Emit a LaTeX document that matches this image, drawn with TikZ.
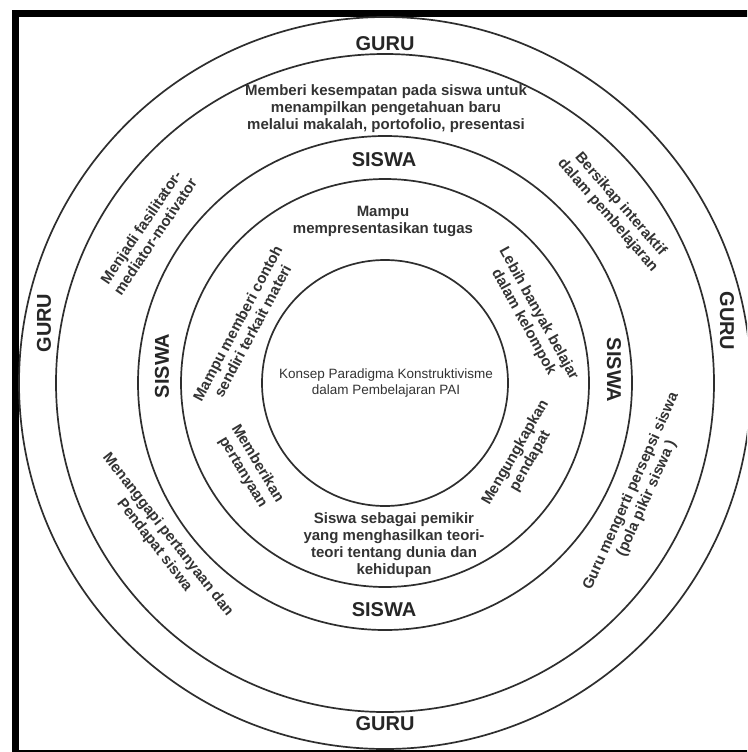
\documentclass[tikz,border=0pt]{standalone}
\usepackage{fontspec}
\setmainfont{Liberation Sans}
\begin{document}
\begin{tikzpicture}[x=1pt,y=-1pt]
\tikzset{
  ring/.style={draw=black!82, line width=1.7pt},
  frameline/.style={draw=black, line width=7pt},
  big/.style={font=\fontsize{20}{22}\selectfont\bfseries, text=black!85, inner sep=0pt},
  lbl/.style={font=\fontsize{15}{17}\selectfont\bfseries, text=black!80, align=center, inner sep=0pt},
  core/.style={font=\fontsize{13.5}{16.5}\selectfont, text=black!80, align=center, inner sep=0pt}
}
\useasboundingbox (0,0) rectangle (747,752);
\clip (0,0) rectangle (747,752);
\fill[white] (0,0) rectangle (747,752);
% frame
\draw[frameline] (15.5,13.5) rectangle (770,753);
% circles
\coordinate (O) at (385,383);
\draw[ring] (O) circle[radius=366];
\draw[ring] (O) circle[radius=329];
\draw[ring] (O) circle[radius=247];
\draw[ring] (O) circle[radius=204];
\draw[ring] (O) circle[radius=123];
% GURU labels
\node[big] (guruT) at (385,44) {GURU};
\node[big] (guruB) at (385,724) {GURU};
\node[big, rotate=90] (guruL) at (44,323) {GURU};
\node[big, rotate=-90] (guruR) at (727,321) {GURU};
% SISWA labels
\node[big] (siswaT) at (384,160) {SISWA};
\node[big] (siswaB) at (384,610) {SISWA};
\node[big, rotate=90] (siswaL) at (162,366) {SISWA};
\node[big, rotate=-90] (siswaR) at (614,370) {SISWA};
% guru ring texts
\node[lbl] (gTop) at (386,109) {Memberi kesempatan pada siswa untuk\\menampilkan pengetahuan baru\\melalui makalah, portofolio, presentasi};
\node[lbl, rotate=56] (gFasil) at (148,232) {Menjadi fasilitator-\\mediator-motivator};
\node[lbl, rotate=-49] (gInter) at (614,210) {Bersikap interaktif\\dalam pembelajaran};
\node[lbl, rotate=-52] (gTanggap) at (161,540) {Menanggapi pertanyaan dan\\Pendapat siswa};
\node[lbl, rotate=66] (gPersepsi) at (639,495) {Guru mengerti persepsi siswa\\(pola pikir siswa )};
% siswa ring texts
\node[lbl] (sTop) at (383,221) {Mampu\\mempresentasikan tugas};
\node[lbl, rotate=62] (sContoh) at (245,327) {Mampu memberi contoh\\sendiri terkait materi};
\node[lbl, rotate=-61] (sKelompok) at (531,318) {Lebih banyak belajar\\dalam kelompok};
\node[lbl, rotate=-59] (sTanya) at (250,468) {Memberikan\\pertanyaan};
\node[lbl, rotate=60] (sPendapat) at (523,457) {Mengungkapkan\\pendapat};
\node[lbl] (sPemikir) at (394,545) {Siswa sebagai pemikir\\yang menghasilkan teori-\\teori tentang dunia dan\\kehidupan};
% core
\node[core] (konsep) at (386,383) {Konsep Paradigma Konstruktivisme\\dalam Pembelajaran PAI};
\end{tikzpicture}
\end{document}
